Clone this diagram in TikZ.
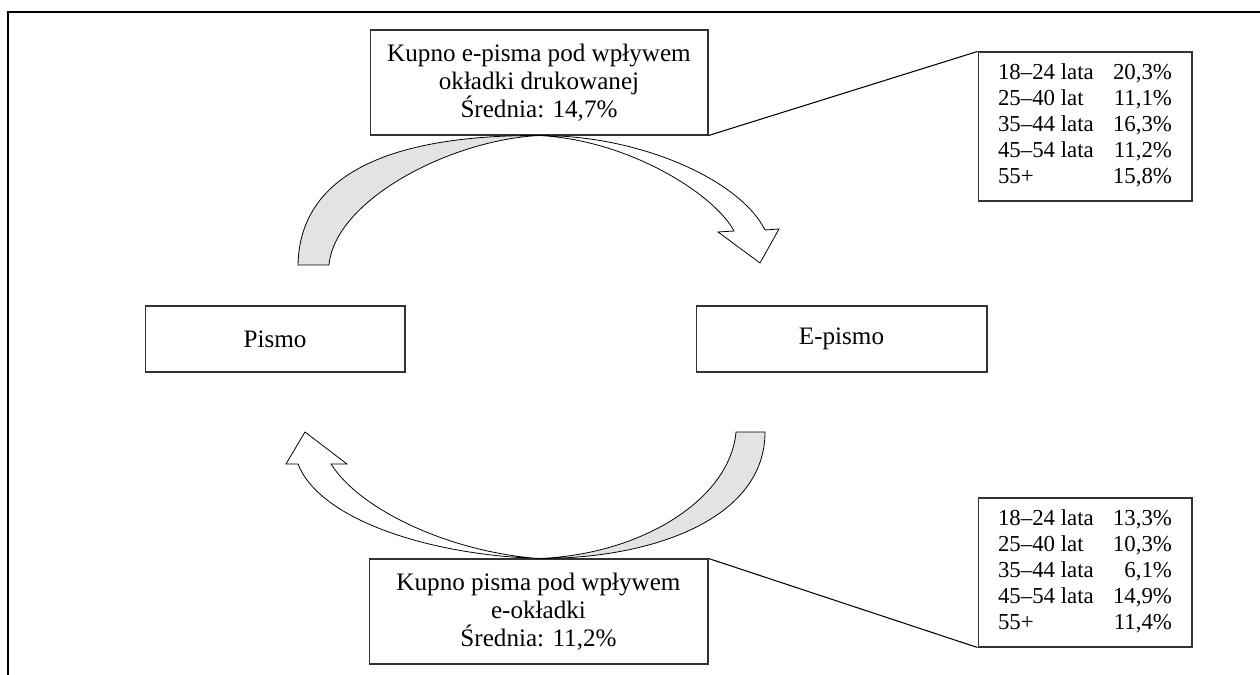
\documentclass[tikz,border=0pt]{standalone}
\usepackage{fontspec}
\setmainfont{Liberation Serif}
\usetikzlibrary{positioning}
\definecolor{wstega}{gray}{0.89}
\definecolor{linia}{gray}{0.2}

\begin{document}
\begin{tikzpicture}[x=0.02cm, y=-0.02cm, line join=miter,
    ramka/.style={draw=linia, line width=0.6pt, fill=white, align=center, inner sep=0pt,
      font={\fontsize{14.3}{15.8}\selectfont}},
    tabela/.style={ramka, minimum width=4.28cm, minimum height=2.98cm,
      font={\fontsize{13}{14.8}\selectfont}},
    strzalka/.style={draw=black, line width=0.45pt}]
  \useasboundingbox (0,0) rectangle (1260,675);
  % frame
  \draw[line width=0.8pt] (8,675) -- (8,12) -- (1260,12);

  % boxes
  \node[ramka, minimum width=6.76cm, minimum height=2.1cm] (gorny) at (539,82.5)
    {Kupno e-pisma pod wpływem\\okładki drukowanej\\Średnia: 14,7\%};
  \node[ramka, minimum width=6.78cm, minimum height=2.1cm] (dolny) at (538.5,611.5)
    {Kupno pisma pod wpływem\\e-okładki\\Średnia: 11,2\%};
  \node[ramka, minimum width=5.2cm, minimum height=1.32cm] (pismo) at (275,339) {Pismo};
  \node[ramka, minimum width=5.82cm, minimum height=1.32cm] (epismo) at (841.5,339) {E-pismo};

  % age groups
  \node[tabela] (tabgorny) at (1085,126.5) {%
    \begin{tabular*}{99pt}{@{}l@{\extracolsep{\fill}}r@{}}
      18–24 lata & 20,3\% \\ 25–40 lat & 11,1\% \\ 35–44 lata & 16,3\% \\
      45–54 lata & 11,2\% \\ 55+ & 15,8\%
    \end{tabular*}};
  \node[tabela] (tabdolny) at (1085,572.5) {%
    \begin{tabular*}{99pt}{@{}l@{\extracolsep{\fill}}r@{}}
      18–24 lata & 13,3\% \\ 25–40 lat & 10,3\% \\ 35–44 lata & 6,1\% \\
      45–54 lata & 14,9\% \\ 55+ & 11,4\%
    \end{tabular*}};
  \draw[line width=0.6pt] (gorny.south east) -- (tabgorny.north west);
  \draw[line width=0.6pt] (dolny.north east) -- (tabdolny.south west);

  % upper ribbon arrow
  \draw[strzalka, fill=wstega] (298,265) .. controls (300,160) and (420,135) .. (gorny.south)
    .. controls (450,140) and (335,200) .. (329,265) -- cycle;
  \draw[strzalka, fill=white] (gorny.south) .. controls (640,135) and (740,180) .. (765,230)
    -- (779,229) -- (760,263) -- (718,232) -- (734,231)
    .. controls (715,195) and (630,140) .. (gorny.south) -- cycle;

  % lower ribbon arrow
  \draw[strzalka, fill=wstega] (765,432) .. controls (765,520) and (650,559) .. (dolny.north)
    .. controls (640,555) and (730,500) .. (736,432) -- cycle;
  \draw[strzalka, fill=white] (dolny.north) .. controls (430,555) and (320,520) .. (298,464)
    -- (286,464) -- (305,432) -- (347,464) -- (331,464)
    .. controls (360,510) and (450,552) .. (dolny.north) -- cycle;
\end{tikzpicture}
\end{document}
